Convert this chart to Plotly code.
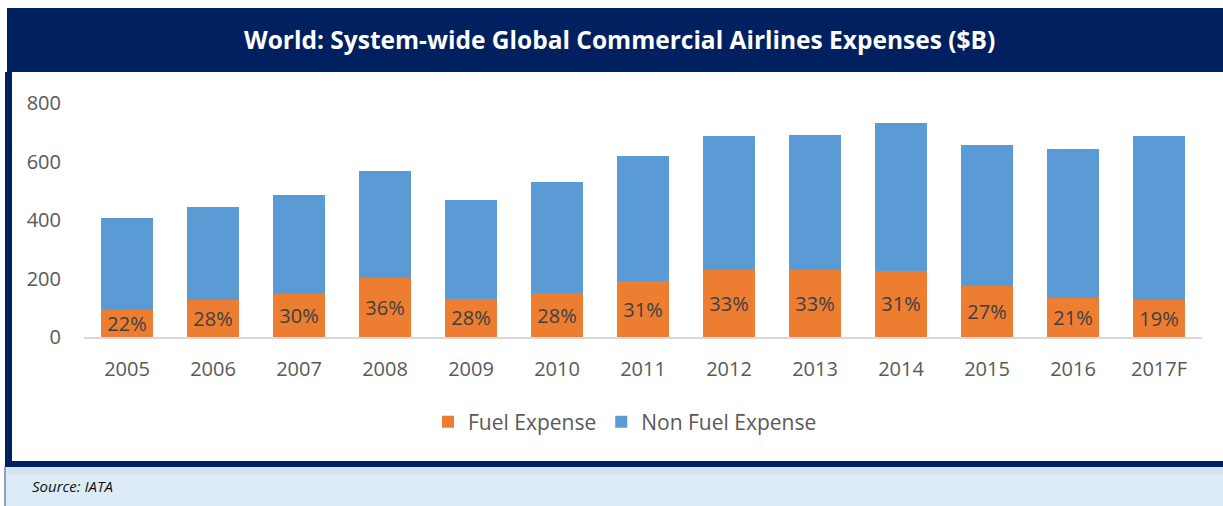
import plotly.graph_objects as go

years = ["2005", "2006", "2007", "2008", "2009", "2010", "2011", "2012", "2013", "2014", "2015", "2016", "2017F"]
fuel = [92, 128, 146, 202, 130, 150, 191, 228, 229, 226, 176, 132, 127]
total = [408, 445, 485, 569, 468, 531, 620, 687, 692, 731, 656, 643, 687]
non_fuel = [t - f for t, f in zip(total, fuel)]
fuel_share = ["22%", "28%", "30%", "36%", "28%", "28%", "31%", "33%", "33%", "31%", "27%", "21%", "19%"]
y_ticks = [0, 200, 400, 600, 800]

W, H = 1223, 506
FONT = "Open Sans"

def px(x):
    return x / W

def py(y):
    return 1 - y / H

fig = go.Figure()
fig.add_trace(go.Bar(
    x=years, y=fuel, name="Fuel Expense",
    marker=dict(color="#ED7D31", line=dict(width=0)),
    text=fuel_share, textposition="inside", insidetextanchor="middle",
    textfont=dict(family=FONT, size=20, color="#404040"),
    width=0.6, hoverinfo="skip",
))
fig.add_trace(go.Bar(
    x=years, y=non_fuel, name="Non Fuel Expense",
    marker=dict(color="#5B9BD5", line=dict(width=0)),
    width=0.6, hoverinfo="skip",
))

shapes = [
    # title bar
    dict(type="rect", xref="paper", yref="paper", x0=px(7), x1=px(1223), y0=py(8), y1=py(72),
         fillcolor="#002060", line=dict(width=0), layer="below"),
    # left border
    dict(type="rect", xref="paper", yref="paper", x0=px(5), x1=px(12), y0=py(72), y1=py(463),
         fillcolor="#002060", line=dict(width=0), layer="below"),
    # source box
    dict(type="rect", xref="paper", yref="paper", x0=px(5), x1=px(1223), y0=py(467), y1=py(506),
         fillcolor="#DDEBF7", line=dict(width=0), layer="below"),
    dict(type="rect", xref="paper", yref="paper", x0=px(5), x1=px(1223), y0=py(467), y1=py(474),
         fillcolor="#D6E3F1", line=dict(width=0), layer="below"),
    dict(type="rect", xref="paper", yref="paper", x0=px(4), x1=px(6), y0=py(467), y1=py(506),
         fillcolor="#8EA0BC", line=dict(width=0), layer="below"),
    # bottom dark line
    dict(type="rect", xref="paper", yref="paper", x0=px(5), x1=px(1223), y0=py(461), y1=py(467),
         fillcolor="#002060", line=dict(width=0), layer="below"),
]

annotations = [
    dict(text="<b>World: System-wide Global Commercial Airlines Expenses ($B)</b>",
         xref="paper", yref="paper", x=px(619), y=py(40), xanchor="center", yanchor="middle",
         showarrow=False, font=dict(family=FONT, size=24.5, color="white")),
    dict(text="<i>Source: IATA</i>",
         xref="paper", yref="paper", x=px(30), y=py(486), xanchor="left", yanchor="middle",
         showarrow=False, font=dict(family=FONT, size=15, color="#111111")),
]

fig.update_layout(
    width=W, height=H,
    margin=dict(l=0, r=0, t=0, b=0, pad=0, autoexpand=False),
    paper_bgcolor="white", plot_bgcolor="white",
    barmode="stack", bargap=0.4,
    showlegend=True,
    legend=dict(orientation="h", x=px(625), xanchor="center", y=py(422), yanchor="middle",
                font=dict(family=FONT, size=21, color="#595959"), traceorder="normal",
                itemwidth=30, bgcolor="rgba(0,0,0,0)"),
    xaxis=dict(domain=[px(84), px(1202)], showgrid=False, zeroline=False,
               showline=True, linecolor="#D9D9D9", linewidth=1.5,
               tickfont=dict(family=FONT, size=20, color="#595959"),
               ticks="", ticklabelstandoff=13, automargin=False, fixedrange=True),
    yaxis=dict(domain=[py(337), py(103)], range=[0, 800], tickvals=y_ticks,
               showgrid=False, zeroline=False, showline=False,
               tickfont=dict(family=FONT, size=20, color="#595959"),
               ticks="", ticklabelstandoff=22, automargin=False, fixedrange=True),
    shapes=shapes, annotations=annotations,
    uniformtext=dict(minsize=20, mode="show"),
)

fig.write_html(
    "out.html",
    config={"displayModeBar": False},
    post_script="document.body.style.margin='0';document.body.style.overflow='hidden';",
)
